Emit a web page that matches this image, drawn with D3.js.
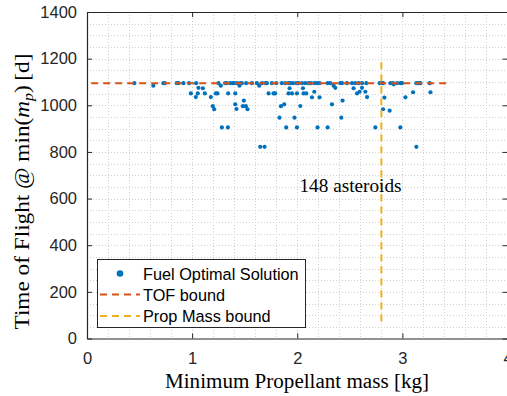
<!DOCTYPE html>
<html>
<head>
<meta charset="utf-8">
<script src="https://cdn.jsdelivr.net/npm/d3@7"></script>
<style>
  html, body { margin: 0; padding: 0; background: #fff; }
  svg { display: block; }
</style>
</head>
<body>
<script>
// Minimum propellant mass [kg] of each fuel-optimal transfer
const propMass = [
  0.450, 0.727, 0.740, 0.854, 0.870, 0.917, 0.971, 1.038, 1.250, 1.314,
  1.330, 1.362, 1.384, 1.400, 1.426, 1.457, 1.473, 1.514, 1.569, 1.616,
  1.664, 1.695, 1.711, 1.759, 1.800, 1.854, 1.886, 1.917, 1.933, 1.959,
  1.990, 2.012, 2.045, 2.076, 2.108, 2.130, 2.162, 2.188, 2.212, 2.289,
  2.314, 2.410, 2.426, 2.473, 2.521, 2.552, 2.584, 2.616, 2.657, 2.784,
  2.807, 2.816, 2.886, 2.911, 2.950, 2.981, 2.997, 3.133, 3.155, 3.171,
  3.260,
  0.631, 1.273, 1.450, 1.638, 2.346, 2.917,
  1.060, 1.102, 1.927, 2.054, 2.362, 2.536, 2.616,
  2.162, 2.593, 2.648, 3.102, 3.267,
  0.988, 1.054, 1.121, 1.226, 1.241, 1.343, 1.410, 1.727, 1.774, 1.790,
  1.917, 1.950, 1.997, 2.060, 2.086, 2.569,
  1.035, 1.178, 2.140, 2.212, 2.664, 2.829, 3.029,
  1.492, 2.431,
  1.410, 1.876, 2.330,
  1.197, 1.483, 1.511, 1.845, 2.029,
  1.210, 1.422, 1.527, 2.816,
  2.879,
  1.831, 1.974, 2.419,
  1.283, 1.340, 1.895, 1.997, 2.193, 2.289, 2.743, 2.981,
  1.648, 1.689, 3.133
];

// Time of flight [d] at the minimum-propellant solution
const timeOfFlight = [
  1095, 1095, 1095, 1095, 1095, 1095, 1095, 1095, 1095, 1095,
  1095, 1095, 1095, 1095, 1095, 1095, 1095, 1095, 1095, 1095,
  1095, 1095, 1095, 1095, 1095, 1095, 1095, 1095, 1095, 1095,
  1095, 1095, 1095, 1095, 1095, 1095, 1095, 1095, 1095, 1095,
  1095, 1095, 1095, 1095, 1095, 1095, 1095, 1095, 1095, 1095,
  1095, 1095, 1095, 1095, 1095, 1095, 1095, 1095, 1095, 1095,
  1095,
  1084, 1084, 1084, 1084, 1084, 1090,
  1075, 1073, 1073, 1073, 1075, 1073, 1075,
  1058, 1058, 1058, 1056, 1056,
  1051, 1051, 1051, 1051, 1051, 1051, 1051, 1051, 1051, 1051,
  1051, 1051, 1051, 1051, 1051, 1051,
  1035, 1035, 1034, 1034, 1035, 1033, 1034,
  1020, 1020,
  1004, 1004, 1004,
  996, 996, 996, 996, 997,
  983, 984, 983, 983,
  977,
  947, 947, 947,
  905, 905, 905, 905, 905, 905, 905, 905,
  822, 822, 822
];

const xTicks = [0, 1, 2, 3, 4];
const yTicks = [0, 200, 400, 600, 800, 1000, 1200, 1400];

const tofBound = 1095;             // [d]
const tofBoundSpan = [0.04, 3.43]; // [kg]
const propMassBound = 2.8;         // [kg]
const propMassBoundSpan = [72, 1185]; // [d]

const legendLabels = ["Fuel Optimal Solution", "TOF bound", "Prop Mass bound"];
const annotation = "148 asteroids";

const COLORS = { blue: "#0072BD", orange: "#D95319", yellow: "#EDB120", axis: "#262626" };
const W = 507, H = 396;

const x = d3.scaleLinear().domain([0, 4]).range([87, 507.5]);
const y = d3.scaleLinear().domain([0, 1400]).range([338.5, 12]);

const svg = d3.select("body").append("svg")
  .attr("width", W).attr("height", H)
  .attr("viewBox", `0 0 ${W} ${H}`);

svg.append("rect").attr("width", W).attr("height", H).attr("fill", "#fff");

// dotted grid (major + minor share the same look)
const grid = svg.append("g").attr("stroke", "#cfcfcf").attr("stroke-width", 1)
  .attr("stroke-dasharray", "1,2");
const xGrid = d3.range(1, 20).map(i => i * 0.2);
const yGrid = d3.range(1, 28).map(i => i * 50);
grid.selectAll("line.gx").data(xGrid).join("line")
  .attr("x1", d => Math.round(x(d)) + 0.5).attr("x2", d => Math.round(x(d)) + 0.5)
  .attr("y1", y(1400)).attr("y2", y(0));
grid.selectAll("line.gy").data(yGrid).join("line")
  .attr("y1", d => Math.round(y(d)) + 0.5).attr("y2", d => Math.round(y(d)) + 0.5)
  .attr("x1", x(0)).attr("x2", x(4));

// scatter of fuel-optimal solutions
const pts = propMass.map((m, i) => ({ m, t: timeOfFlight[i] }));
svg.append("g").selectAll("circle").data(pts).join("circle")
  .attr("cx", d => x(d.m)).attr("cy", d => y(d.t)).attr("r", 2.1)
  .attr("fill", COLORS.blue);

// TOF bound
svg.append("line")
  .attr("x1", x(tofBoundSpan[0])).attr("x2", x(tofBoundSpan[1]))
  .attr("y1", y(tofBound)).attr("y2", y(tofBound))
  .attr("stroke", COLORS.orange).attr("stroke-width", 2)
  .attr("stroke-dasharray", "7,5");

// propellant mass bound
svg.append("line")
  .attr("x1", x(propMassBound)).attr("x2", x(propMassBound))
  .attr("y1", y(propMassBoundSpan[1])).attr("y2", y(propMassBoundSpan[0]))
  .attr("stroke", COLORS.yellow).attr("stroke-width", 2)
  .attr("stroke-dasharray", "7,5");

// annotation
svg.append("text")
  .attr("x", 350.5).attr("y", 192)
  .attr("text-anchor", "middle")
  .attr("font-family", "'Liberation Serif', serif")
  .attr("font-size", 18.5)
  .attr("textLength", 102).attr("lengthAdjust", "spacingAndGlyphs")
  .attr("fill", "#000")
  .text(annotation);

// axes
const tickFont = "'Liberation Sans', Arial, Helvetica, sans-serif";
function styleAxis(g) {
  g.selectAll("path.domain").attr("stroke", COLORS.axis).attr("stroke-width", 1.2);
  g.selectAll(".tick line").attr("stroke", COLORS.axis).attr("stroke-width", 1);
  g.selectAll(".tick text").attr("fill", COLORS.axis)
    .attr("font-family", tickFont).attr("font-size", 16.5);
}
svg.append("g").attr("transform", `translate(0,${y(0)})`)
  .call(d3.axisBottom(x).tickValues(xTicks).tickFormat(d3.format("d"))
    .tickSizeInner(-5).tickSizeOuter(0).tickPadding(14))
  .call(styleAxis);
svg.append("g").attr("transform", `translate(${x(0)},0)`)
  .call(d3.axisLeft(y).tickValues(yTicks).tickFormat(d3.format("d"))
    .tickSizeInner(-5).tickSizeOuter(0).tickPadding(10))
  .call(styleAxis);
svg.append("g").attr("transform", `translate(0,${y(1400)})`)
  .call(d3.axisTop(x).tickValues(xTicks).tickFormat("")
    .tickSizeInner(-5).tickSizeOuter(0))
  .call(styleAxis);
svg.append("g").attr("transform", `translate(${x(4)},0)`)
  .call(d3.axisRight(y).tickValues(yTicks).tickFormat("")
    .tickSizeInner(-5).tickSizeOuter(0))
  .call(styleAxis);

// axis titles
const serif = "'Liberation Serif', 'Times New Roman', serif";
svg.append("text")
  .attr("x", 297).attr("y", 388)
  .attr("text-anchor", "middle")
  .attr("font-family", serif).attr("font-size", 20)
  .attr("textLength", 264).attr("lengthAdjust", "spacingAndGlyphs")
  .attr("fill", "#000")
  .text("Minimum Propellant mass [kg]");

const yl = svg.append("text")
  .attr("transform", `translate(29,191.5) rotate(-90)`)
  .attr("text-anchor", "middle")
  .attr("font-family", serif).attr("font-size", 20.5)
  .attr("textLength", 276).attr("lengthAdjust", "spacingAndGlyphs")
  .attr("fill", "#000");
yl.append("tspan").text("Time of Flight @ min(");
yl.append("tspan").attr("font-style", "italic").text("m");
yl.append("tspan").attr("font-style", "italic").attr("font-size", 14).attr("dy", 4).text("p");
yl.append("tspan").attr("dy", -4).text(")\u2009[d]");

// legend
const lg = svg.append("g");
lg.append("rect").attr("x", 97.5).attr("y", 259.5).attr("width", 208).attr("height", 68)
  .attr("fill", "#fff").attr("stroke", COLORS.axis).attr("stroke-width", 1);
const rowsY = [273.5, 294.5, 316];
lg.append("circle").attr("cx", 120).attr("cy", rowsY[0]).attr("r", 3.3).attr("fill", COLORS.blue);
lg.append("line").attr("x1", 100).attr("x2", 140).attr("y1", rowsY[1]).attr("y2", rowsY[1])
  .attr("stroke", COLORS.orange).attr("stroke-width", 2).attr("stroke-dasharray", "7,5");
lg.append("line").attr("x1", 100).attr("x2", 140).attr("y1", rowsY[2]).attr("y2", rowsY[2])
  .attr("stroke", COLORS.yellow).attr("stroke-width", 2).attr("stroke-dasharray", "7,5");
lg.selectAll("text").data(legendLabels).join("text")
  .attr("x", 143).attr("y", (d, i) => rowsY[i] + 6)
  .attr("font-family", tickFont).attr("font-size", 16.3)
  .attr("fill", "#000")
  .text(d => d);
</script>
</body>
</html>
